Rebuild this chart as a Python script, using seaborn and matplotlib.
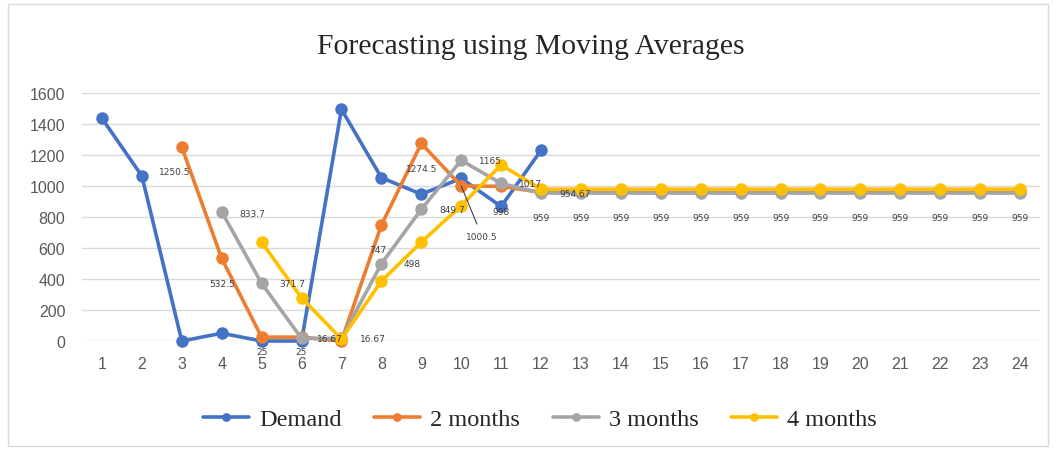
import matplotlib
matplotlib.use("Agg")
import matplotlib.pyplot as plt
import matplotlib.patches as patches
import seaborn as sns
import pandas as pd

# values
months = list(range(1, 25))
demand = [1436, 1065, 0, 50, 0, 0, 1495, 1054, 947, 1049, 868, 1230]
ma2 = [1250.5, 532.5, 25, 25, 0, 747.5, 1274.5, 1000.5, 998, 958.5] + [959] * 12
ma3 = [833.7, 371.7, 16.67, 16.67, 498.3, 849.7, 1165.3, 1016.7, 954.67] + [954.67] * 12
ma4 = [637.75, 278.75, 12.5, 386.25, 637.25, 874, 1136.25, 979.5] + [979.5] * 12
series_names = ["Demand", "2 months", "3 months", "4 months"]
series_start = [1, 3, 4, 5]
colors = ["#4472C4", "#ED7D31", "#A5A5A5", "#FFC000"]

# data labels: (series, month, text, dx, dy) offsets in pixels
labels = [
    ("2 months", 3, "1250.5", -7, -24),
    ("2 months", 4, "532.5", 0, -25),
    ("3 months", 4, "833.7", 31, -2),
    ("3 months", 5, "371.7", 31, 0),
    ("2 months", 5, "25", 0, -14),
    ("2 months", 6, "25", 0, -14),
    ("3 months", 6, "16.67", 28, 0),
    ("3 months", 7, "16.67", 31, 0),
    ("2 months", 8, "747", -4, -24),
    ("3 months", 8, "498", 31, 0),
    ("2 months", 9, "1274.5", 0, -25),
    ("3 months", 9, "849.7", 31, 0),
    ("3 months", 10, "1165", 29, 0),
    ("2 months", 11, "998", 0, -25),
    ("3 months", 11, "1017", 29, 0),
    ("3 months", 12, "954.67", 34, 0),
] + [("2 months", m, "959", 0, -25) for m in range(12, 25)]

rows = []
for name, start, vals in zip(series_names, series_start, [demand, ma2, ma3, ma4]):
    for i, v in enumerate(vals):
        rows.append({"Month": start + i, "Value": v, "Series": name})
df = pd.DataFrame(rows)

sns.set_style("white")
fig = plt.figure(figsize=(10.56, 4.52), dpi=100)
ax = fig.add_axes([82 / 1056, 1 - 342 / 452, (1040 - 82) / 1056, (342 - 94) / 452])

sns.lineplot(data=df, x="Month", y="Value", hue="Series", hue_order=series_names,
             palette=colors, marker="o", markersize=9, markeredgewidth=0,
             linewidth=2.6, ax=ax, clip_on=False)

ax.set_xlim(0.5, 24.5)
ax.set_ylim(0, 1600)
ax.set_xticks(months)
ax.set_yticks(range(0, 1601, 200))
ax.set_xlabel("")
ax.set_ylabel("")
ax.grid(axis="y", color="#D9D9D9", linewidth=1)
ax.set_axisbelow(True)
for s in ax.spines.values():
    s.set_visible(False)
ax.tick_params(axis="both", length=0, labelsize=11.5, labelcolor="#595959")
ax.tick_params(axis="y", pad=12)
ax.tick_params(axis="x", pad=11)
for t in ax.get_xticklabels() + ax.get_yticklabels():
    t.set_fontfamily("Liberation Sans")

# data labels
lookup = {(r.Series, r.Month): r.Value for r in df.itertuples()}
for name, m, txt, dx, dy in labels:
    v = lookup[(name, m)]
    ax.annotate(txt, (m, v), xytext=(dx * 0.72, dy * 0.72), textcoords="offset points",
                ha="center", va="center", fontsize=6.5, color="#404040",
                annotation_clip=False)
# label with leader line
v = lookup[("2 months", 10)]
ax.annotate("1000.5", (10, v), xytext=(21 * 0.72, -51 * 0.72), textcoords="offset points",
            ha="center", va="center", fontsize=6.5, color="#404040",
            arrowprops=dict(arrowstyle="-", color="#404040", lw=0.8, shrinkA=4, shrinkB=0))

handles, lbls = ax.get_legend_handles_labels()
ax.legend(handles, lbls, loc="center", bbox_to_anchor=(540 / 1056, 1 - 420 / 452),
          bbox_transform=fig.transFigure, ncol=4, frameon=False,
          prop={"family": "Liberation Serif", "size": 17.5},
          handlelength=1.9, handletextpad=0.4, columnspacing=1.35, markerscale=0.7)

fig.text(531 / 1056, 1 - 47 / 452, "Forecasting using Moving Averages", ha="center", va="center",
         fontsize=21.3, family="Liberation Serif", color="#262626")

fig.patches.append(patches.Rectangle((8 / 1056, 5 / 452), 1040 / 1056, 442 / 452,
                                     transform=fig.transFigure, fill=False,
                                     edgecolor="#D9D9D9", linewidth=1))

fig.savefig("out.png", dpi=100)
